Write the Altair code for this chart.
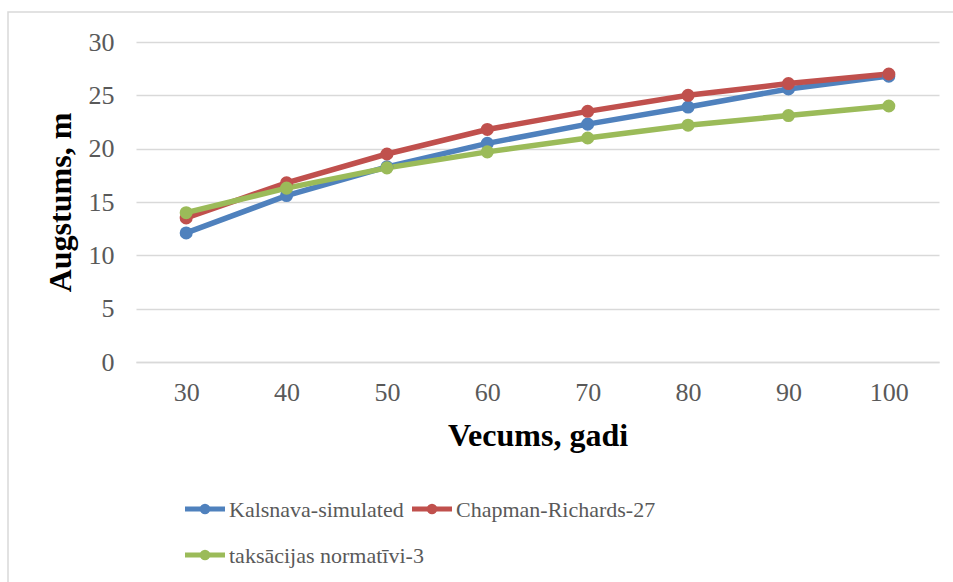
import altair as alt
import pandas as pd

ages = [30, 40, 50, 60, 70, 80, 90, 100]
series_names = ["Kalsnava-simulated", "Chapman-Richards-27", "taksācijas normatīvi-3"]
kalsnava = [12.1, 15.6, 18.3, 20.5, 22.3, 23.9, 25.6, 26.8]
chapman = [13.5, 16.8, 19.5, 21.8, 23.5, 25.0, 26.1, 27.0]
normativi = [14.0, 16.3, 18.2, 19.7, 21.0, 22.2, 23.1, 24.0]
colors = ["#4F81BD", "#C0504D", "#9BBB59"]

rows = []
for name, vals in zip(series_names, [kalsnava, chapman, normativi]):
    for a, v in zip(ages, vals):
        rows.append({"Vecums": a, "Augstums": v, "Serija": name})
df = pd.DataFrame(rows)

FONT = '"Liberation Serif", "Times New Roman", Times, serif'
GREY = "#595959"

# Legend laid out as a two-column grid below the plot (pixel offsets from the plot origin)
LEG_X, LEG_Y, COL_W, ROW_H, SYM_W, TXT_GAP = 49, 467, 227, 46, 40, 44
legend_rows = []
for i, name in enumerate(series_names):
    c, r = i % 2, i // 2
    x0 = LEG_X + c * COL_W
    legend_rows.append({
        "Serija": name,
        "sx": x0, "sx2": x0 + SYM_W, "cx": x0 + SYM_W / 2,
        "tx": x0 + TXT_GAP, "sy": LEG_Y + r * ROW_H,
    })
legend_df = pd.DataFrame(legend_rows)

color_scale = alt.Scale(domain=series_names, range=colors)
series_color = alt.Color("Serija:N", sort=series_names, scale=color_scale, legend=None)

x_enc = alt.X(
    "Vecums:O",
    sort=ages,
    scale=alt.Scale(type="point", padding=0.5),
    axis=alt.Axis(
        title="Vecums, gadi",
        labelAngle=0,
        labelFont=FONT,
        labelFontSize=26,
        labelColor=GREY,
        labelPadding=17,
        ticks=False,
        tickSize=0,
        domainColor="#D9D9D9",
        domainWidth=1.5,
        grid=False,
        titleFont=FONT,
        titleFontSize=32,
        titleFontWeight="bold",
        titleColor="black",
        titlePadding=15,
    ),
)
y_enc = alt.Y(
    "Augstums:Q",
    scale=alt.Scale(domain=[0, 30]),
    axis=alt.Axis(
        title="Augstums, m",
        values=[0, 5, 10, 15, 20, 25, 30],
        labelFont=FONT,
        labelFontSize=26,
        labelColor=GREY,
        labelPadding=22,
        ticks=False,
        tickSize=0,
        domain=False,
        gridColor="#D9D9D9",
        gridWidth=1.5,
        titleFont=FONT,
        titleFontSize=32,
        titleFontWeight="bold",
        titleColor="black",
        titlePadding=11,
    ),
)

lines = alt.Chart(df).mark_line(strokeWidth=5.5).encode(
    x=x_enc, y=y_enc, color=series_color, order=alt.Order("Vecums:Q"),
)
points = alt.Chart(df).mark_circle(size=170, opacity=1).encode(
    x=x_enc, y=y_enc, color=series_color,
)
# series lines and their markers share one set of scales and axes
series_layer = alt.layer(lines, points)

leg_base = alt.Chart(legend_df)
leg_lines = leg_base.mark_rule(strokeWidth=5).encode(
    x=alt.X("sx:Q", scale=None, axis=None),
    x2="sx2:Q",
    y=alt.Y("sy:Q", scale=None, axis=None),
    color=series_color,
)
leg_dots = leg_base.mark_circle(size=110, opacity=1).encode(
    x=alt.X("cx:Q", scale=None, axis=None),
    y=alt.Y("sy:Q", scale=None, axis=None),
    color=series_color,
)
leg_text = leg_base.mark_text(
    align="left", baseline="middle", font=FONT, fontSize=22, color=GREY, dy=1
).encode(
    x=alt.X("tx:Q", scale=None, axis=None),
    y=alt.Y("sy:Q", scale=None, axis=None),
    text="Serija:N",
)
legend_layer = alt.layer(leg_lines, leg_dots, leg_text)

frame = alt.Chart(pd.DataFrame({"k": [0]})).mark_rect(
    fill="white", fillOpacity=0, stroke="#D9D9D9", strokeWidth=1.5
).encode(
    x=alt.value(-128), x2=alt.value(830), y=alt.value(-30), y2=alt.value(560)
)

chart = (
    alt.layer(frame, series_layer, legend_layer)
    .resolve_scale(x="independent", y="independent")
    .properties(
        width=803,
        height=320,
        autosize=alt.AutoSizeParams(type="none"),
        padding={"left": 136, "top": 42, "right": 14, "bottom": 220},
        background="white",
    )
    .configure(font=FONT)
    .configure_view(stroke=None)
)

chart.save("out.html", embed_options={"renderer": "svg", "actions": False})
